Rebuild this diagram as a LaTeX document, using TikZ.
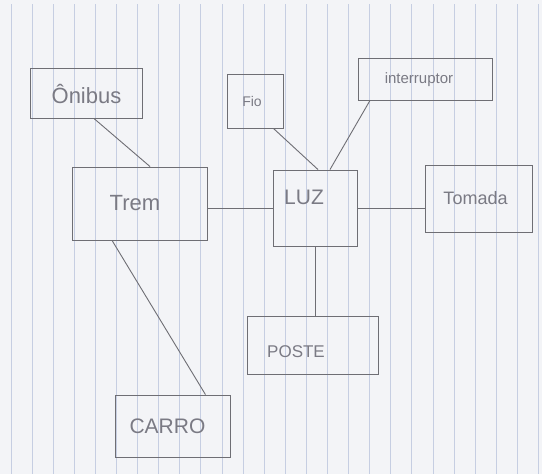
\documentclass[tikz,border=0pt]{standalone}
\usepackage{fontspec}
\setmainfont{Liberation Sans}
\usetikzlibrary{calc}
\definecolor{paper}{HTML}{F3F4F7}
\definecolor{rule}{HTML}{C6CEE2}
\definecolor{pencil}{HTML}{6E6E74}
\definecolor{ink}{HTML}{7A7A84}
\tikzset{
  box/.style={draw=pencil, line width=0.9pt, minimum width=#1, inner sep=0pt, text=ink},
  conn/.style={draw=pencil, line width=0.9pt},
  ruleline/.style={draw=rule, line width=1pt}
}
\begin{document}
\begin{tikzpicture}[x=1pt, y=-1pt]
  \useasboundingbox (0,0) rectangle (542,474);
  \fill[paper] (0,0) rectangle (542,474);
  \foreach \k in {0,...,25} {
    \draw[ruleline] (11+21.1*\k, 4) -- (11+21.1*\k, 474);
  }
  % boxes
  \node[box=112pt, minimum height=50pt, font=\fontsize{22}{22}\selectfont] (onibus) at (86.5,93.5) {Ônibus};
  \node[box=56pt, minimum height=54pt, font=\fontsize{14}{14}\selectfont] (fio) at (255,101) {\hspace*{-6pt}Fio};
  \node[box=134pt, minimum height=42pt, font=\fontsize{15}{15}\selectfont] (interr) at (425,79) {\hspace*{-12pt}\raisebox{-4pt}[0pt][0pt]{interruptor}};
  \node[box=135pt, minimum height=73pt, font=\fontsize{22}{22}\selectfont] (trem) at (140,203.5) {\hspace*{-10pt}Trem};
  \node[box=84pt, minimum height=76pt, font=\fontsize{21}{21}\selectfont] (luz) at (315,208) {\hspace*{-22pt}\raisebox{4pt}[0pt][0pt]{LUZ}};
  \node[box=107pt, minimum height=67pt, font=\fontsize{18}{18}\selectfont] (tomada) at (478.5,198.5) {\hspace*{-6pt}Tomada};
  \node[box=131pt, minimum height=58pt, font=\fontsize{17}{17}\selectfont] (poste) at (313,345) {\hspace*{-34pt}\raisebox{-12pt}[0pt][0pt]{POSTE}};
  \node[box=115pt, minimum height=62pt, font=\fontsize{21}{21}\selectfont] (carro) at (172.5,426) {\hspace*{-10pt}CARRO};
  % connectors
  \draw[conn] ([xshift=8pt]onibus.south) -- ([xshift=10pt]trem.north);
  \draw[conn] ([xshift=-10pt]fio.south east) -- ([xshift=3pt]luz.north);
  \draw[conn] ([xshift=-55pt]interr.south) -- ([xshift=15pt]luz.north);
  \draw[conn] (trem.east |- luz.west) -- (luz.west);
  \draw[conn] (luz.east) -- (luz.east -| tomada.west);
  \draw[conn] (luz.south) -- (luz.south |- poste.north);
  \draw[conn] ([xshift=40pt]trem.south west) -- ([xshift=-25pt]carro.north east);
\end{tikzpicture}
\end{document}
